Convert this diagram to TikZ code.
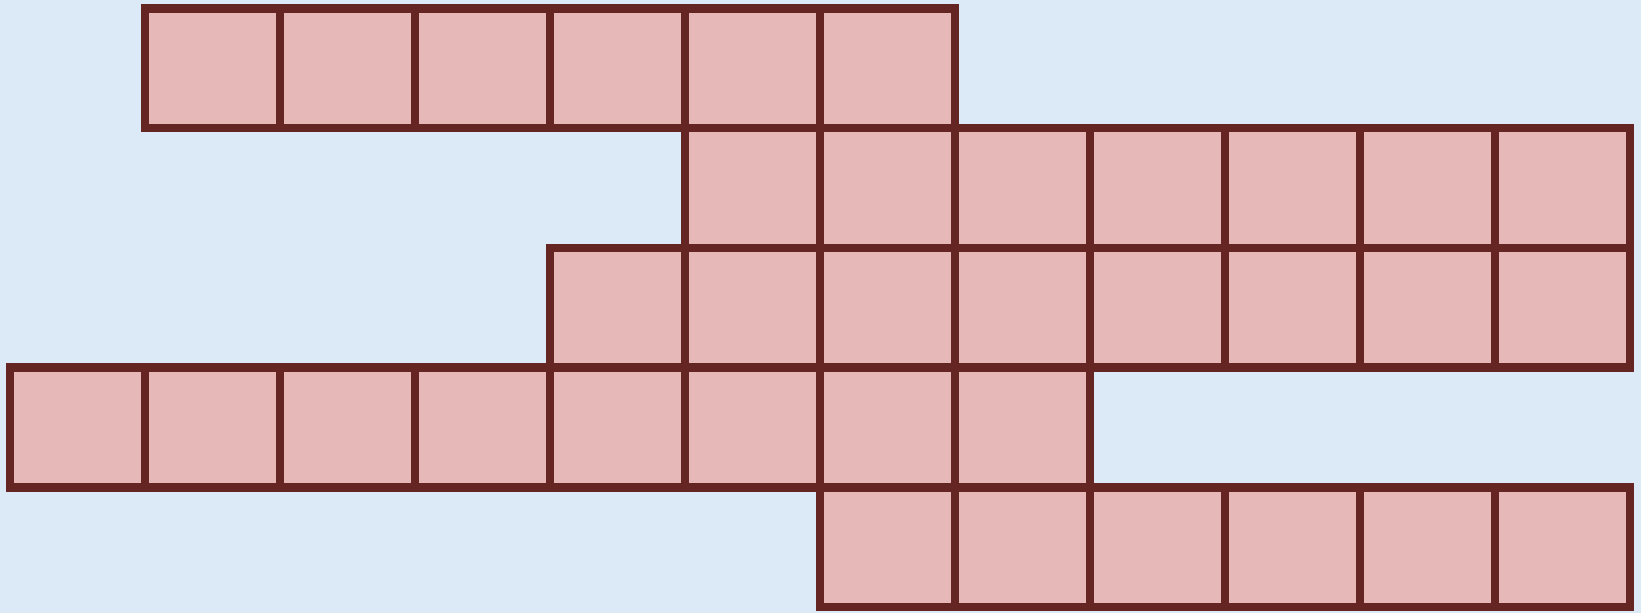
\documentclass[tikz,border=0pt]{standalone}
\usepackage{tikz}
\definecolor{bgblue}{HTML}{DCEAF8}
\definecolor{cellfill}{HTML}{E6B8B7}
\definecolor{cellline}{HTML}{652523}
\tikzset{
  cell/.style={rectangle, draw=cellline, fill=cellfill, line width=4.25pt,
    minimum width=67.5pt, minimum height=59.875pt, inner sep=0pt, outer sep=0pt}
}
\begin{document}
\begin{tikzpicture}[x=0.5pt,y=-0.5pt]
\fill[bgblue] (0,0) rectangle (1641,613);
\useasboundingbox (0,0) rectangle (1641,613);
% rows: row index / first col / last col
\foreach \r/\a/\b in {0/1/6, 1/5/11, 2/4/11, 3/0/7, 4/6/11}{
  \foreach \c in {\a,...,\b}{
    \node[cell] (c-\r-\c) at ({10+135*\c+67.5},{8.3+119.75*\r+59.875}) {};
  }
}
\end{tikzpicture}
\end{document}
